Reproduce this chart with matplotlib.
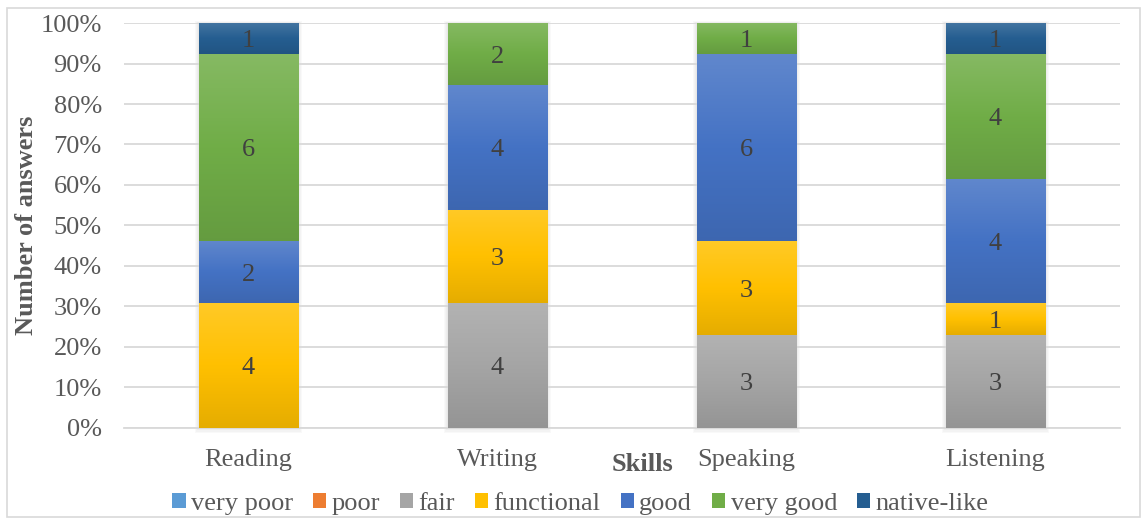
import matplotlib.pyplot as plt
import numpy as np
from matplotlib.colors import to_rgb, LinearSegmentedColormap
from matplotlib.patches import Rectangle
from matplotlib.transforms import offset_copy

plt.rcParams['font.family'] = ['Liberation Serif', 'DejaVu Serif']

skills = ['Reading', 'Writing', 'Speaking', 'Listening']
levels = ['very poor', 'poor', 'fair', 'functional', 'good', 'very good', 'native-like']
very_poor = [0, 0, 0, 0]
poor = [0, 0, 0, 0]
fair = [0, 4, 3, 3]
functional = [4, 3, 3, 1]
good = [2, 4, 6, 4]
very_good = [6, 2, 1, 4]
native_like = [1, 0, 0, 1]
colors = ['#5B9BD5', '#ED7D31', '#A5A5A5', '#FFC000', '#4472C4', '#70AD47', '#255E91']

counts = np.array([very_poor, poor, fair, functional, good, very_good, native_like], dtype=float)
totals = counts.sum(axis=0)
pct = counts / totals * 100

fig = plt.figure(figsize=(11.45, 5.23), dpi=100)
ax = fig.add_axes([0.1083, 0.1817, 0.8697, 0.7743])

# figure border
fig.patches.append(Rectangle((0.006, 0.012), 0.99, 0.973, transform=fig.transFigure,
                             fill=False, edgecolor='#D9D9D9', lw=1.2))


def shade(c, f):
    r = np.array(to_rgb(c))
    if f > 0:
        return tuple(r + (1 - r) * f)
    return tuple(r * (1 + f))


x = np.arange(len(skills))
width = 0.4

# soft shadow behind the stacks
for k in range(1, 5):
    d = 0.004 * k
    for xi in x:
        ax.add_patch(Rectangle((xi - width / 2 - d, -0.3 * k), width + 2 * d, 100 + 0.4 * k,
                               color='black', alpha=0.025, lw=0, zorder=1.5, clip_on=False))

lbl_tr = offset_copy(ax.transData, fig=fig, x=0, y=-2, units='points')
bottom = np.zeros(len(skills))
for i, lev in enumerate(levels):
    bars = ax.bar(x, pct[i], width, bottom=bottom, color=colors[i], label=lev,
                  zorder=2, linewidth=0)
    cmap = LinearSegmentedColormap.from_list(
        'g', [shade(colors[i], -0.1), colors[i], shade(colors[i], 0.15)])
    for b, v, n in zip(bars, pct[i], counts[i]):
        if n == 0:
            continue
        bx, by = b.get_x(), b.get_y()
        grad = np.linspace(0, 1, 100).reshape(-1, 1)
        im = ax.imshow(grad, cmap=cmap, origin='lower', aspect='auto',
                       extent=[bx, bx + width, by, by + v], zorder=3)
        im.set_clip_path(b)
        ax.text(bx + width / 2, by + v / 2, f'{int(n)}', ha='center', va='center',
                fontsize=19, color='#404040', zorder=4, transform=lbl_tr)
    bottom += pct[i]

ax.set_xlim(-0.5, len(skills) - 0.5)
ax.set_ylim(0, 100)
ax.set_yticks(np.arange(0, 101, 10))
ax.set_yticklabels([f'{t}%' for t in range(0, 101, 10)])
ax.set_xticks(x)
ax.set_xticklabels(skills)
ax.tick_params(axis='both', length=0, labelsize=19, labelcolor='#595959')
ax.tick_params(axis='y', pad=16)
ax.tick_params(axis='x', pad=15)
ax.yaxis.grid(True, color='#D9D9D9', lw=1.3, zorder=0)
for s in ['top', 'right', 'left']:
    ax.spines[s].set_visible(False)
ax.spines['bottom'].set_color('#D9D9D9')
ax.spines['bottom'].set_linewidth(1.3)

fig.text(0.023, 0.57, 'Number of answers', rotation=90, ha='center', va='center',
         fontsize=19, fontweight='bold', color='#595959')
fig.text(0.561, 0.112, 'Skills', ha='center', va='center', fontsize=19,
         fontweight='bold', color='#595959')

leg = fig.legend(loc='center', bbox_to_anchor=(0.507, 0.037), ncol=7, frameon=False,
                 fontsize=19, handlelength=0.5, handleheight=0.5, handletextpad=0.2,
                 columnspacing=0.76, labelcolor='#595959')

fig.savefig('out.png', dpi=100)
